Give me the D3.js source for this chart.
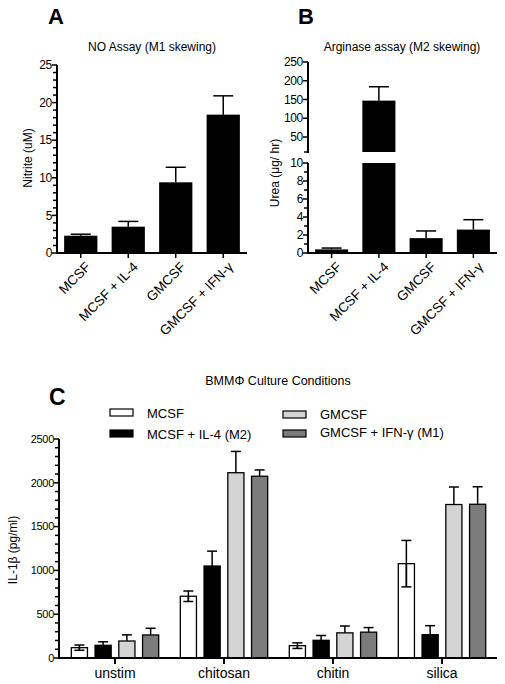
<!DOCTYPE html>
<html><head><meta charset="utf-8">
<script src="https://cdn.jsdelivr.net/npm/d3@7"></script>
<style>
body{margin:0;background:#fff;}
text{font-family:Arial,"Liberation Sans",Helvetica,sans-serif;fill:#000;}
</style></head>
<body>
<svg id="chart" width="505" height="684"></svg>
<script>
// ---------- DATA ----------
const catsAB = ["MCSF", "MCSF + IL-4", "GMCSF", "GMCSF + IFN-\u03b3"];
const nitriteMean = [2.3, 3.5, 9.4, 18.4];
const nitriteErr  = [0.2, 0.7, 2.0, 2.5];
const ureaMean = [0.4, 147, 1.65, 2.6];
const ureaErr  = [0.15, 37, 0.8, 1.1];

const groupsC = ["unstim", "chitosan", "chitin", "silica"];
const seriesC = ["MCSF", "MCSF + IL-4 (M2)", "GMCSF", "GMCSF + IFN-\u03b3 (M1)"];
const colorsC = ["#ffffff", "#000000", "#d4d4d4", "#7b7b7b"];
const il1bMCSF   = [118, 705, 141, 1077];
const il1bIL4    = [145, 1050, 202, 266];
const il1bGMCSF  = [194, 2115, 287, 1752];
const il1bIFN    = [263, 2075, 295, 1755];
const errMCSF  = [30, 60, 32, 265];
const errIL4   = [40, 170, 55, 103];
const errGMCSF = [70, 243, 78, 200];
const errIFN   = [76, 72, 52, 200];

const ticksA = [0, 5, 10, 15, 20, 25];
const ticksBlow = [0, 2, 4, 6, 8, 10];
const ticksBup = [50, 100, 150, 200, 250];
const ticksC = [0, 500, 1000, 1500, 2000, 2500];

const svg = d3.select("#chart");

function yAxisDraw(g, scale, majors, minors, fs, majorLen, minorLen) {
  // domain line
  const r = scale.range();
  g.append("line").attr("x1", 0).attr("x2", 0).attr("y1", r[0] + 1).attr("y2", r[1])
    .attr("stroke", "#000").attr("stroke-width", 2);
  minors.forEach(v => g.append("line").attr("x1", -minorLen).attr("x2", 0)
    .attr("y1", scale(v)).attr("y2", scale(v)).attr("stroke", "#000").attr("stroke-width", 1.5));
  majors.forEach(v => {
    g.append("line").attr("x1", -majorLen).attr("x2", 0)
      .attr("y1", scale(v)).attr("y2", scale(v)).attr("stroke", "#000").attr("stroke-width", 1.5);
    g.append("text").attr("x", -majorLen).attr("y", scale(v)).attr("dy", "0.35em")
      .attr("text-anchor", "end").attr("font-size", fs).attr("letter-spacing", "-0.3").text(v);
  });
}

// ---------- PANEL A ----------
{
  const x = d3.scaleBand().domain(catsAB).range([57, 247]).paddingInner(0.3).paddingOuter(0.15);
  const y = d3.scaleLinear().domain([0, 25]).range([253, 65]);
  const g = svg.append("g");
  g.append("text").attr("x", 48).attr("y", 24).attr("font-size", 22).attr("font-weight", "bold").text("A");
  g.append("text").attr("x", 152).attr("y", 51).attr("text-anchor", "middle").attr("font-size", 12).text("NO Assay (M1 skewing)");
  g.append("text").attr("transform", "translate(32,158) rotate(-90)").attr("text-anchor", "middle").attr("font-size", 12).text("Nitrite (uM)");
  // bars
  catsAB.forEach((c, i) => {
    const cx = x(c) + x.bandwidth() / 2;
    g.append("line").attr("x1", cx).attr("x2", cx).attr("y1", y(nitriteMean[i])).attr("y2", y(nitriteMean[i] + nitriteErr[i]))
      .attr("stroke", "#000").attr("stroke-width", 1.5);
    g.append("line").attr("x1", cx - 10).attr("x2", cx + 10).attr("y1", y(nitriteMean[i] + nitriteErr[i])).attr("y2", y(nitriteMean[i] + nitriteErr[i]))
      .attr("stroke", "#000").attr("stroke-width", 1.5);
    g.append("rect").attr("x", x(c)).attr("width", x.bandwidth()).attr("y", y(nitriteMean[i])).attr("height", y(0) - y(nitriteMean[i])).attr("fill", "#000");
  });
  const ya = g.append("g").attr("transform", "translate(57,0)");
  yAxisDraw(ya, y, ticksA, d3.range(0, 26, 1).filter(v => v % 5), 12, 5, 4);
  // x axis
  g.append("line").attr("x1", 56).attr("x2", 247).attr("y1", 253).attr("y2", 253).attr("stroke", "#000").attr("stroke-width", 2);
  catsAB.forEach(c => {
    const cx = x(c) + x.bandwidth() / 2;
    g.append("line").attr("x1", cx).attr("x2", cx).attr("y1", 253).attr("y2", 258).attr("stroke", "#000").attr("stroke-width", 1.5);
    g.append("text").attr("transform", `translate(${cx + 4},${261}) rotate(-45)`).attr("text-anchor", "end")
      .attr("dy", "0.7em").attr("font-size", 13.5).text(c);
  });
}

// ---------- PANEL B ----------
{
  const x = d3.scaleBand().domain(catsAB).range([308, 497]).paddingInner(0.3).paddingOuter(0.15);
  const yLow = d3.scaleLinear().domain([0, 10]).range([253, 163]);
  const yUp = d3.scaleLinear().domain([10, 250]).range([152, 62]);
  const yv = v => v <= 10 ? yLow(v) : yUp(v);
  const g = svg.append("g");
  g.append("text").attr("x", 298).attr("y", 24).attr("font-size", 22).attr("font-weight", "bold").text("B");
  g.append("text").attr("x", 402).attr("y", 51).attr("text-anchor", "middle").attr("font-size", 12).text("Arginase assay (M2 skewing)");
  g.append("text").attr("transform", "translate(279,173) rotate(-90)").attr("text-anchor", "middle").attr("font-size", 12).text("Urea (\u03bcg/ hr)");
  catsAB.forEach((c, i) => {
    const cx = x(c) + x.bandwidth() / 2;
    const top = ureaMean[i] + ureaErr[i];
    g.append("line").attr("x1", cx).attr("x2", cx).attr("y1", yv(ureaMean[i])).attr("y2", yv(top))
      .attr("stroke", "#000").attr("stroke-width", 1.5);
    g.append("line").attr("x1", cx - 10).attr("x2", cx + 10).attr("y1", yv(top)).attr("y2", yv(top))
      .attr("stroke", "#000").attr("stroke-width", 1.5);
    const m = ureaMean[i];
    if (m <= 10) {
      g.append("rect").attr("x", x(c)).attr("width", x.bandwidth()).attr("y", yLow(m)).attr("height", yLow(0) - yLow(m)).attr("fill", "#000");
    } else {
      g.append("rect").attr("x", x(c)).attr("width", x.bandwidth()).attr("y", yLow(10)).attr("height", yLow(0) - yLow(10)).attr("fill", "#000");
      g.append("rect").attr("x", x(c)).attr("width", x.bandwidth()).attr("y", yUp(m)).attr("height", yUp(10) - yUp(m)).attr("fill", "#000");
    }
  });
  const ga = g.append("g").attr("transform", "translate(308,0)");
  yAxisDraw(ga, yLow, ticksBlow, [1, 3, 5, 7, 9], 12, 5, 4);
  const gb = g.append("g").attr("transform", "translate(308,0)");
  yAxisDraw(gb, yUp, ticksBup, [10], 12, 5, 4);
  g.append("line").attr("x1", 307).attr("x2", 497).attr("y1", 253).attr("y2", 253).attr("stroke", "#000").attr("stroke-width", 2);
  catsAB.forEach(c => {
    const cx = x(c) + x.bandwidth() / 2;
    g.append("line").attr("x1", cx).attr("x2", cx).attr("y1", 253).attr("y2", 258).attr("stroke", "#000").attr("stroke-width", 1.5);
    g.append("text").attr("transform", `translate(${cx + 4},${261}) rotate(-45)`).attr("text-anchor", "end")
      .attr("dy", "0.7em").attr("font-size", 13.5).text(c);
  });
}

// ---------- PANEL C ----------
{
  const means = [il1bMCSF, il1bIL4, il1bGMCSF, il1bIFN];
  const errs = [errMCSF, errIL4, errGMCSF, errIFN];
  const x0 = d3.scaleBand().domain(groupsC).range([60.5, 496.5]).padding(0);
  const x1 = d3.scaleBand().domain(seriesC).range([7, 102]).paddingInner(0.32).paddingOuter(0.16);
  const y = d3.scaleLinear().domain([0, 2500]).range([658, 439]);
  const g = svg.append("g");
  g.append("text").attr("x", 49).attr("y", 405).attr("font-size", 23).attr("font-weight", "bold").text("C");
  g.append("text").attr("x", 278).attr("y", 385).attr("text-anchor", "middle").attr("font-size", 12.5).text("BMM\u03a6 Culture Conditions");
  g.append("text").attr("transform", "translate(17,550) rotate(-90)").attr("text-anchor", "middle").attr("font-size", 12).text("IL-1\u03b2 (pg/ml)");

  // legend
  const legPos = [[110, 409, 147, 418], [110, 430, 147, 439], [283, 411, 320, 419], [283, 430, 320, 437]];
  seriesC.forEach((s, k) => {
    const p = legPos[k];
    g.append("rect").attr("x", p[0]).attr("y", p[1]).attr("width", 23).attr("height", 7)
      .attr("fill", colorsC[k]).attr("stroke", "#000").attr("stroke-width", 1.2);
    g.append("text").attr("x", p[2]).attr("y", p[3]).attr("font-size", 13).text(s);
  });

  groupsC.forEach((grp, i) => {
    seriesC.forEach((s, k) => {
      const bx = x0(grp) + x1(s);
      const bw = x1.bandwidth();
      const cx = bx + bw / 2;
      const m = means[k][i], e = errs[k][i];
      const lowV = k === 0 ? m - e : m;
      g.append("line").attr("x1", cx).attr("x2", cx).attr("y1", y(lowV)).attr("y2", y(m + e)).attr("stroke", "#000").attr("stroke-width", 1.5);
      g.append("line").attr("x1", cx - 5).attr("x2", cx + 5).attr("y1", y(m + e)).attr("y2", y(m + e)).attr("stroke", "#000").attr("stroke-width", 1.5);
      g.append("rect").attr("x", bx).attr("y", y(m)).attr("width", bw).attr("height", y(0) - y(m))
        .attr("fill", colorsC[k]).attr("fill-opacity", k === 0 ? 0 : 1).attr("stroke", "#000").attr("stroke-width", 1.3);
      if (k === 0) {
        g.append("line").attr("x1", cx).attr("x2", cx).attr("y1", y(m)).attr("y2", y(m - e)).attr("stroke", "#000").attr("stroke-width", 1.5);
        g.append("line").attr("x1", cx - 5).attr("x2", cx + 5).attr("y1", y(m - e)).attr("y2", y(m - e)).attr("stroke", "#000").attr("stroke-width", 1.5);
      }
    });
  });
  const ga = g.append("g").attr("transform", "translate(59,0)");
  yAxisDraw(ga, y, ticksC, d3.range(0, 2501, 100).filter(v => v % 500), 11, 5, 4);
  g.append("line").attr("x1", 58).attr("x2", 497).attr("y1", 658).attr("y2", 658).attr("stroke", "#000").attr("stroke-width", 2);
  groupsC.forEach(grp => {
    const cx = x0(grp) + x0.bandwidth() / 2;
    g.append("line").attr("x1", cx).attr("x2", cx).attr("y1", 658).attr("y2", 664).attr("stroke", "#000").attr("stroke-width", 2);
    g.append("text").attr("x", cx).attr("y", 678).attr("text-anchor", "middle").attr("font-size", 14).text(grp);
  });
}
</script>
</body></html>
